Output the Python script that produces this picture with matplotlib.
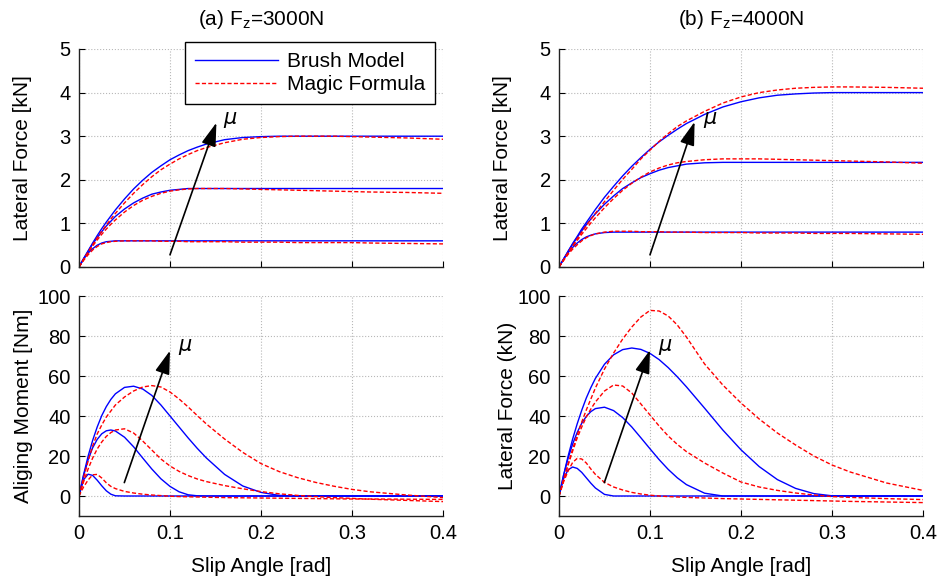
import matplotlib
matplotlib.use("Agg")
import matplotlib.pyplot as plt

plt.rcParams['font.family'] = ['Liberation Sans', 'DejaVu Sans']
plt.rcParams['mathtext.default'] = 'regular'

# slip angle grid [rad]
slip = [0, .005, .01, .015, .02, .025, .03, .035, .04, .05, .06, .07, .08, .09, .10,
        .11, .12, .13, .14, .16, .18, .20, .22, .24, .26, .28, .30, .32, .36, .40]

# (a) Fz=3000N, lateral force [kN]
fy3_brush_lo = [0, .18, .32, .42, .50, .55, .58, .59, .60, .60, .60, .60, .60, .60, .60,
                .60, .60, .60, .60, .60, .60, .60, .60, .60, .60, .60, .60, .60, .60, .60]
fy3_brush_md = [0, .19, .36, .53, .67, .81, .94, 1.05, 1.16, 1.33, 1.47, 1.58, 1.67, 1.72, 1.76,
                1.78, 1.80, 1.80, 1.80, 1.80, 1.80, 1.80, 1.80, 1.80, 1.80, 1.80, 1.80, 1.80, 1.80, 1.80]
fy3_brush_hi = [0, .19, .37, .55, .72, .88, 1.03, 1.17, 1.31, 1.56, 1.79, 1.99, 2.17, 2.32, 2.46,
                2.57, 2.67, 2.75, 2.82, 2.92, 2.97, 2.99, 3.0, 3.0, 3.0, 3.0, 3.0, 3.0, 3.0, 3.0]
fy3_mf_lo = [0, .15, .28, .39, .47, .53, .56, .58, .59, .60, .60, .60, .60, .59, .59,
             .59, .58, .58, .58, .58, .57, .57, .57, .56, .56, .56, .56, .55, .54, .53]
fy3_mf_md = [0, .17, .33, .48, .62, .75, .87, .98, 1.08, 1.26, 1.41, 1.53, 1.62, 1.69, 1.74,
             1.77, 1.79, 1.80, 1.80, 1.80, 1.79, 1.78, 1.77, 1.76, 1.75, 1.74, 1.73, 1.72, 1.71, 1.69]
fy3_mf_hi = [0, .17, .34, .51, .67, .82, .96, 1.10, 1.23, 1.47, 1.69, 1.89, 2.07, 2.23, 2.36,
             2.48, 2.58, 2.67, 2.74, 2.85, 2.93, 2.97, 2.99, 3.0, 3.0, 3.0, 2.99, 2.98, 2.96, 2.93]

# (a) Fz=3000N, aligning moment [Nm]
mz3_brush_lo = [0, 8.1, 10.9, 10.3, 7.9, 5.1, 2.6, 0.9, 0.1, 0, 0, 0, 0, 0, 0,
                0, 0, 0, 0, 0, 0, 0, 0, 0, 0, 0, 0, 0, 0, 0]
mz3_brush_md = [0, 10.1, 18.1, 24.1, 28.3, 31.1, 32.6, 33.0, 32.5, 29.4, 24.6, 19.0, 13.5, 8.6, 4.8,
                2.1, 0.6, 0.1, 0, 0, 0, 0, 0, 0, 0, 0, 0, 0, 0, 0]
mz3_brush_hi = [0, 10.6, 19.9, 27.8, 34.5, 40.2, 44.7, 48.3, 51.1, 54.3, 54.9, 53.5, 50.3, 45.5, 40.0,
                34.5, 29.0, 23.8, 19.0, 10.8, 5.0, 1.8, 0.3, 0, 0, 0, 0, 0, 0, 0]
mz3_mf_lo = [0, 4.5, 8.0, 10.6, 10.8, 9.0, 6.6, 4.8, 3.7, 2.3, 1.5, 0.9, 0.5, 0.2, -0.1,
             -0.3, -0.4, -0.5, -0.6, -0.8, -0.9, -1.0, -1.1, -1.2, -1.3, -1.4, -1.5, -1.5, -1.6, -1.7]
mz3_mf_md = [0, 7, 13.5, 19, 23.5, 27, 29.8, 31.7, 33, 33.6, 31.5, 27.5, 23, 18.5, 15,
             12.3, 10.2, 8.5, 7.2, 5.2, 3.6, 2.2, 1.1, 0.3, -0.3, -0.8, -1.2, -1.6, -2.2, -2.8]
mz3_mf_hi = [0, 9, 17.5, 25, 31, 35.5, 39.5, 42.5, 45.5, 49.5, 52.5, 54.5, 55.2, 54.5, 52,
             48.5, 44.5, 40.2, 36, 28.5, 21.8, 16.2, 12.2, 9.2, 6.8, 4.9, 3.3, 2.1, 0.5, -0.8]

# (b) Fz=4000N, lateral force [kN]
fy4_brush_lo = [0, .18, .33, .45, .55, .63, .69, .73, .76, .79, .80, .80, .80, .80, .80,
                .80, .80, .80, .80, .80, .80, .80, .80, .80, .80, .80, .80, .80, .80, .80]
fy4_brush_md = [0, .18, .36, .52, .68, .83, .97, 1.10, 1.22, 1.44, 1.63, 1.80, 1.93, 2.05, 2.14,
                2.22, 2.28, 2.32, 2.36, 2.39, 2.40, 2.40, 2.40, 2.40, 2.40, 2.40, 2.40, 2.40, 2.40, 2.40]
fy4_brush_hi = [0, .18, .36, .54, .70, .87, 1.02, 1.17, 1.32, 1.60, 1.85, 2.09, 2.31, 2.51, 2.70,
                2.87, 3.02, 3.16, 3.29, 3.50, 3.67, 3.79, 3.88, 3.94, 3.97, 3.99, 4.0, 4.0, 4.0, 4.0]
fy4_mf_lo = [0, .15, .29, .41, .51, .60, .67, .72, .76, .80, .82, .82, .82, .81, .81,
             .81, .80, .80, .80, .79, .79, .79, .78, .78, .78, .77, .77, .77, .76, .75]
fy4_mf_md = [0, .16, .32, .47, .61, .75, .88, 1.01, 1.13, 1.36, 1.57, 1.76, 1.92, 2.06, 2.18,
             2.27, 2.34, 2.39, 2.42, 2.46, 2.48, 2.48, 2.48, 2.47, 2.46, 2.45, 2.44, 2.43, 2.41, 2.38]
fy4_mf_hi = [0, .16, .33, .49, .65, .80, .95, 1.09, 1.23, 1.50, 1.76, 2.01, 2.24, 2.48, 2.68,
             2.88, 3.06, 3.22, 3.35, 3.57, 3.76, 3.90, 4.00, 4.06, 4.10, 4.12, 4.13, 4.13, 4.12, 4.10]

# (b) Fz=4000N, aligning moment
mz4_brush_lo = [0, 8.6, 13.1, 14.5, 13.8, 11.8, 9.1, 6.4, 4.0, 0.8, 0, 0, 0, 0, 0,
                0, 0, 0, 0, 0, 0, 0, 0, 0, 0, 0, 0, 0, 0, 0]
mz4_brush_md = [0, 10.2, 18.9, 26.0, 31.8, 36.4, 39.8, 42.2, 43.7, 44.4, 42.7, 39.2, 34.5, 29.1, 23.6,
                18.2, 13.3, 9.1, 5.7, 1.4, 0, 0, 0, 0, 0, 0, 0, 0, 0, 0]
mz4_brush_hi = [0, 10.4, 19.9, 28.5, 36.1, 42.9, 49.0, 54.2, 58.8, 65.9, 70.6, 73.2, 74.0, 73.3, 71.3,
                68.2, 64.2, 59.6, 54.6, 43.9, 33.0, 23.1, 14.7, 8.2, 3.8, 1.2, 0.1, 0, 0, 0]
mz4_mf_lo = [0, 7, 12.5, 16.8, 18.8, 18.5, 16.5, 13.5, 10.8, 6.8, 4.5, 3.0, 1.8, 1.0, 0.4,
             0, -0.3, -0.5, -0.7, -1.0, -1.3, -1.5, -1.7, -1.9, -2.1, -2.3, -2.5, -2.7, -3.0, -3.3]
mz4_mf_md = [0, 8, 15.5, 22.5, 29, 34.5, 39.5, 43.5, 47, 52.5, 55.5, 55, 51.5, 46, 40.5,
             35, 30, 25.8, 22.2, 16.5, 11.5, 7, 4.5, 2.8, 1.5, 0.5, -0.3, -0.7, -1.3, -1.8]
mz4_mf_hi = [0, 8, 16, 23.5, 30.5, 37, 43, 48.5, 54, 63.5, 71.5, 78.5, 84.5, 89.5, 92.8,
             92.5, 90, 85.5, 79.5, 66, 55.5, 46.5, 38.5, 31.5, 25.5, 20, 15.5, 12, 6.5, 2.8]

xticks = [0, 0.1, 0.2, 0.3, 0.4]
xtick_labels = ["0", "0.1", "0.2", "0.3", "0.4"]

fig = plt.figure(figsize=(9.4, 5.79), dpi=100)
W, H = 940.0, 579.0


def make_axes(l, t, r, b):
    return fig.add_axes([l / W, 1 - b / H, (r - l) / W, (b - t) / H])


def style(ax, ylim, yticks, ylabel, bottom_labels, ylabel_x):
    ax.set_xlim(0, 0.4)
    ax.set_ylim(*ylim)
    ax.set_xticks(xticks)
    ax.set_yticks(yticks)
    ax.set_yticklabels([str(v) for v in yticks])
    if bottom_labels:
        ax.set_xticklabels(xtick_labels)
        ax.set_xlabel("Slip Angle [rad]", fontsize=15, labelpad=9.5)
    else:
        ax.set_xticklabels([])
    ax.set_ylabel(ylabel, fontsize=15)
    ax.yaxis.set_label_coords(ylabel_x, 0.5)
    ax.tick_params(direction='in', length=4, width=0.8, labelsize=14.5, pad=6)
    ax.grid(True, linestyle=':', color='#b8b8b8', linewidth=0.8)
    ax.spines['top'].set_visible(False)
    ax.spines['right'].set_visible(False)
    for s in ('left', 'bottom'):
        ax.spines[s].set_linewidth(1.0)
        ax.spines[s].set_color('#222222')
    ax.set_axisbelow(True)


dash = (0, (3, 1.6))

ax_tl = make_axes(79, 49, 443, 267)
ax_tr = make_axes(559, 49, 923, 267)
ax_bl = make_axes(79, 296, 443, 516)
ax_br = make_axes(559, 296, 923, 516)

panels = [
    (ax_tl, [fy3_brush_lo, fy3_brush_md, fy3_brush_hi], [fy3_mf_lo, fy3_mf_md, fy3_mf_hi]),
    (ax_tr, [fy4_brush_lo, fy4_brush_md, fy4_brush_hi], [fy4_mf_lo, fy4_mf_md, fy4_mf_hi]),
    (ax_bl, [mz3_brush_lo, mz3_brush_md, mz3_brush_hi], [mz3_mf_lo, mz3_mf_md, mz3_mf_hi]),
    (ax_br, [mz4_brush_lo, mz4_brush_md, mz4_brush_hi], [mz4_mf_lo, mz4_mf_md, mz4_mf_hi]),
]
for ax, brush, mf in panels:
    for i, y in enumerate(brush):
        ax.plot(slip, y, color='#0000ff', lw=1.0, label="Brush Model" if i == 0 else None)
    for i, y in enumerate(mf):
        ax.plot(slip, y, color='#ff0000', lw=1.0, linestyle=dash,
                label="Magic Formula" if i == 0 else None)

style(ax_tl, (0, 5), [0, 1, 2, 3, 4, 5], "Lateral Force [kN]", False, -0.129)
style(ax_tr, (0, 5), [0, 1, 2, 3, 4, 5], "Lateral Force [kN]", False, -0.129)
style(ax_bl, (-10, 100), [0, 20, 40, 60, 80, 100], "Aliging Moment [Nm]", True, -0.126)
style(ax_br, (-10, 100), [0, 20, 40, 60, 80, 100], "Lateral Force (kN)", True, -0.115)

ax_tl.set_title("(a) F$_z$=3000N", fontsize=15, pad=17)
ax_tr.set_title("(b) F$_z$=4000N", fontsize=15, pad=17)

# mu arrows
arrow = dict(arrowstyle='-|>,head_length=0.8,head_width=0.25', color='k', lw=1.2,
             mutation_scale=18, shrinkA=0, shrinkB=0)
for ax, tail, tip, lab in [(ax_tl, (0.1, 0.28), (0.151, 3.31), (0.166, 3.37)),
                           (ax_tr, (0.1, 0.28), (0.149, 3.33), (0.166, 3.37)),
                           (ax_bl, (0.0498, 6.7), (0.1, 72.7), (0.1165, 74.7)),
                           (ax_br, (0.0498, 6.7), (0.1, 73.0), (0.1165, 74.7))]:
    ax.annotate('', xy=tip, xytext=tail, arrowprops=arrow)
    ax.text(lab[0], lab[1], r'$\mu$', fontsize=15, ha='center', va='center',
            fontstyle='italic', family='DejaVu Sans')

leg = ax_tl.legend(loc='upper right', bbox_to_anchor=(0.978, 1.03), borderaxespad=0,
                   fontsize=15, handlelength=4.0, handletextpad=0.45, labelspacing=0.22,
                   fancybox=False, edgecolor='k', framealpha=1, borderpad=0.45)
leg.get_frame().set_linewidth(1.0)

fig.savefig("out.png", dpi=100)
